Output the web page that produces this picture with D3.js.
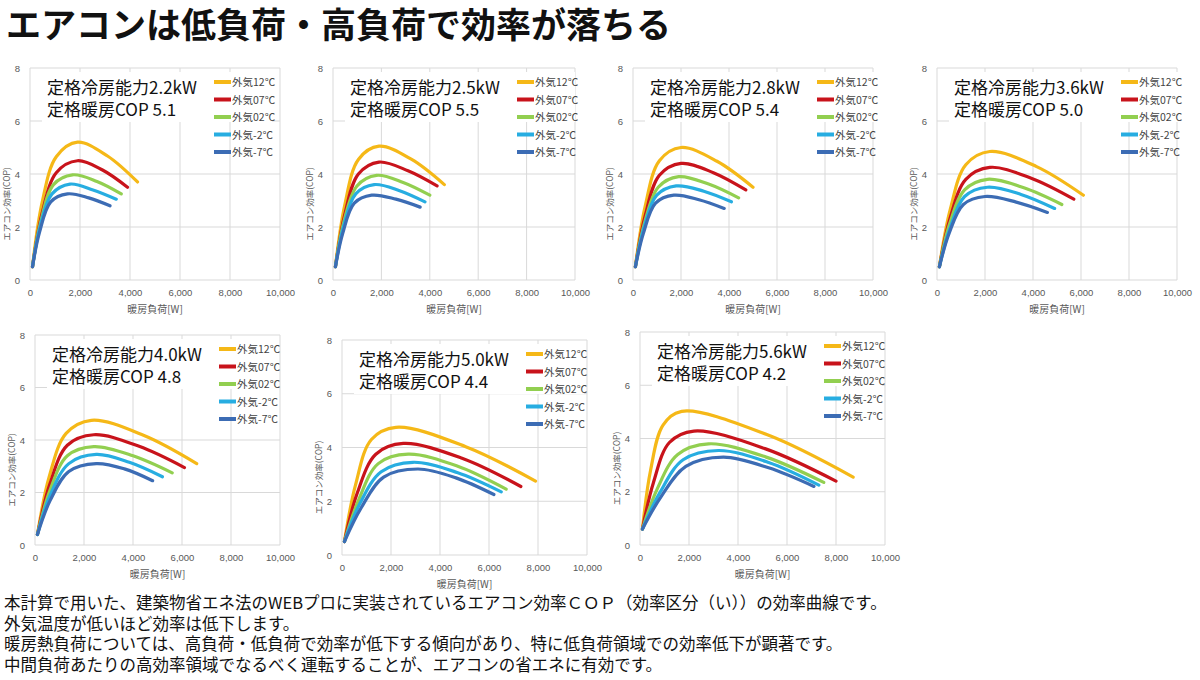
<!DOCTYPE html>
<html><head><meta charset="utf-8">
<script src="https://cdn.jsdelivr.net/npm/d3@7"></script>
<style>
body{margin:0;background:#fff;font-family:"Noto Sans CJK JP","Noto Sans",sans-serif;}
</style></head>
<body><svg id="chart" width="1200" height="680"></svg>
<script>
const seriesNames = ["外気12℃", "外気07℃", "外気02℃", "外気-2℃", "外気-7℃"];
const seriesColors = ["#f5b817", "#c8131b", "#92cf50", "#27ade1", "#3c6cb4"];
const xTicks = [0, 2000, 4000, 6000, 8000, 10000];
const yTicks = [0, 2, 4, 6, 8];
const capacities = ["2.2kW", "2.5kW", "2.8kW", "3.6kW", "4.0kW", "5.0kW", "5.6kW"];
const ratedCop = ["5.1", "5.5", "5.4", "5.0", "4.8", "4.4", "4.2"];

// [load W, COP] per panel, per series (12, 07, 02, -2, -7)
const curves = [
  [[[100,0.5],[480,2.9],[1050,4.65],[1900,5.2],[3100,4.68],[4300,3.7]],
   [[100,0.5],[480,2.5],[1050,4.05],[1900,4.5],[2900,4.15],[3900,3.5]],
   [[100,0.5],[430,2.2],[940,3.6],[1700,3.97],[2680,3.72],[3650,3.25]],
   [[100,0.5],[400,2.0],[880,3.25],[1600,3.62],[2520,3.4],[3450,3.05]],
   [[100,0.5],[380,1.8],[830,2.95],[1500,3.25],[2350,3.1],[3200,2.8]]],
  [[[100,0.5],[480,2.8],[1050,4.55],[1900,5.05],[3250,4.55],[4600,3.6]],
   [[100,0.5],[480,2.45],[1050,4.0],[1900,4.45],[3100,4.12],[4300,3.55]],
   [[100,0.5],[450,2.2],[990,3.55],[1800,3.95],[2900,3.68],[4000,3.2]],
   [[100,0.5],[430,2.0],[940,3.25],[1700,3.6],[2750,3.37],[3800,2.95]],
   [[100,0.5],[400,1.75],[880,2.9],[1600,3.2],[2600,3.05],[3600,2.75]]],
  [[[100,0.5],[500,2.75],[1100,4.5],[2000,5.0],[3500,4.48],[5000,3.5]],
   [[100,0.5],[500,2.4],[1100,3.95],[2000,4.4],[3350,4.05],[4700,3.4]],
   [[100,0.5],[480,2.15],[1050,3.5],[1900,3.9],[3150,3.62],[4400,3.1]],
   [[100,0.5],[450,1.95],[990,3.2],[1800,3.55],[2950,3.35],[4100,2.95]],
   [[100,0.5],[430,1.75],[940,2.9],[1700,3.2],[2750,3.03],[3800,2.7]]],
  [[[100,0.5],[550,2.65],[1200,4.35],[2200,4.85],[4150,4.28],[6100,3.2]],
   [[100,0.5],[550,2.35],[1200,3.8],[2200,4.25],[3950,3.83],[5700,3.05]],
   [[100,0.5],[520,2.1],[1150,3.4],[2100,3.8],[3650,3.47],[5200,2.85]],
   [[100,0.5],[520,1.9],[1150,3.15],[2100,3.5],[3500,3.23],[4900,2.7]],
   [[100,0.5],[500,1.75],[1100,2.85],[2000,3.15],[3300,2.94],[4600,2.55]]],
  [[[100,0.4],[580,2.6],[1270,4.25],[2300,4.75],[4450,4.17],[6600,3.1]],
   [[100,0.4],[600,2.3],[1320,3.8],[2400,4.2],[4250,3.76],[6100,2.95]],
   [[100,0.4],[600,2.05],[1320,3.4],[2400,3.75],[4000,3.4],[5600,2.75]],
   [[100,0.4],[620,1.9],[1380,3.1],[2500,3.45],[3850,3.15],[5200,2.6]],
   [[100,0.4],[620,1.7],[1380,2.8],[2500,3.1],[3650,2.9],[4800,2.45]]],
  [[[100,0.5],[550,2.6],[1200,4.3],[2200,4.75],[5050,4.03],[7900,2.75]],
   [[100,0.5],[620,2.3],[1380,3.75],[2500,4.15],[4900,3.6],[7300,2.55]],
   [[100,0.5],[680,2.05],[1480,3.4],[2700,3.75],[4700,3.31],[6700,2.45]],
   [[100,0.5],[720,1.9],[1600,3.1],[2900,3.45],[4700,3.07],[6500,2.35]],
   [[100,0.5],[780,1.75],[1700,2.9],[3100,3.2],[4650,2.87],[6200,2.25]]],
  [[[100,0.6],[430,2.8],[940,4.5],[1700,5.02],[5200,4.14],[8700,2.55]],
   [[100,0.6],[550,2.35],[1200,3.85],[2200,4.28],[5100,3.62],[8000,2.4]],
   [[100,0.6],[700,2.1],[1540,3.4],[2800,3.8],[5150,3.3],[7500,2.35]],
   [[100,0.6],[800,1.95],[1760,3.2],[3200,3.55],[5250,3.1],[7300,2.25]],
   [[100,0.6],[850,1.8],[1870,2.95],[3400,3.3],[5250,2.9],[7100,2.2]]]
];

const notes = [
  "本計算で用いた、建築物省エネ法のWEBプロに実装されているエアコン効率ＣＯＰ（効率区分（い））の効率曲線です。",
  "外気温度が低いほど効率は低下します。",
  "暖房熱負荷については、高負荷・低負荷で効率が低下する傾向があり、特に低負荷領域での効率低下が顕著です。",
  "中間負荷あたりの高効率領域でなるべく運転することが、エアコンの省エネに有効です。"
];

// plot frames: x of 0 W, x of 10000 W, y of COP 8, y of COP 0
const frames = [
  [30, 280, 68, 280], [333, 575, 68, 280], [633, 873, 68, 280], [937, 1177, 68, 280],
  [35, 280, 335, 545], [342, 587, 340, 555], [640, 885, 332, 545]
];

const svg = d3.select("#chart");

svg.append("text").attr("x", 6).attr("y", 38)
  .style("font-size", "35px").style("font-weight", "bold").attr("fill", "#111")
  .text("エアコンは低負荷・高負荷で効率が落ちる");

frames.forEach((f, i) => {
  const x = d3.scaleLinear().domain([0, 10000]).range([f[0], f[1]]);
  const y = d3.scaleLinear().domain([0, 8]).range([f[3], f[2]]);
  const g = svg.append("g");

  g.append("g").selectAll("line").data(xTicks).join("line")
    .attr("x1", d => x(d)).attr("x2", d => x(d)).attr("y1", f[2]).attr("y2", f[3])
    .attr("stroke", "#d9d9d9");
  g.append("g").selectAll("line").data(yTicks).join("line")
    .attr("x1", f[0]).attr("x2", f[1]).attr("y1", d => y(d)).attr("y2", d => y(d))
    .attr("stroke", "#d9d9d9");

  const xa = g.append("g").attr("transform", `translate(0,${f[3]})`)
    .call(d3.axisBottom(x).tickValues(xTicks).tickFormat(d3.format(",")).tickSize(0).tickPadding(9));
  const ya = g.append("g").attr("transform", `translate(${f[0]},0)`)
    .call(d3.axisLeft(y).tickValues(yTicks).tickSize(0).tickPadding(10));
  [xa, ya].forEach(a => {
    a.select(".domain").remove();
    a.selectAll("text").attr("fill", "#595959").style("font-size", "9.5px")
      .style("font-family", "Liberation Sans, sans-serif");
  });

  g.append("text").attr("x", (f[0] + f[1]) / 2).attr("y", f[3] + 33)
    .attr("text-anchor", "middle").attr("fill", "#595959").style("font-size", "10px")
    .text("暖房負荷[W]");
  g.append("text").attr("transform", `translate(${f[0] - 20},${(f[2] + f[3]) / 2 + 30}) rotate(-90)`)
    .attr("text-anchor", "middle").attr("fill", "#595959").style("font-size", "8.5px")
    .text("エアコン効率(COP)");

  // title box
  g.append("rect").attr("x", f[0] + 12).attr("y", f[2] + 4).attr("width", 230).attr("height", 50).attr("fill", "#fff");
  g.append("text").attr("x", f[0] + 17).attr("y", f[2] + 26).style("font-size", "17px").attr("fill", "#111")
    .text("定格冷房能力" + capacities[i]);
  g.append("text").attr("x", f[0] + 17).attr("y", f[2] + 48).style("font-size", "17px").attr("fill", "#111")
    .text("定格暖房COP " + ratedCop[i]);

  const line = d3.line().x(d => x(d[0])).y(d => y(d[1])).curve(d3.curveCatmullRom.alpha(0.5));
  curves[i].forEach((c, k) => {
    g.append("path").attr("d", line(c)).attr("fill", "none")
      .attr("stroke", seriesColors[k]).attr("stroke-width", 3.2).attr("stroke-linecap", "round");
  });

  const leg = g.append("g").attr("transform", `translate(${f[0] + 184},${f[2] + 14})`);
  seriesNames.forEach((n, k) => {
    leg.append("line").attr("x1", 0).attr("x2", 17).attr("y1", k * 17.5).attr("y2", k * 17.5)
      .attr("stroke", seriesColors[k]).attr("stroke-width", 4);
    leg.append("text").attr("x", 18).attr("y", k * 17.5 + 4).style("font-size", "10.5px").attr("fill", "#444")
      .text(n);
  });
});

svg.append("g").selectAll("text").data(notes).join("text")
  .attr("x", 4).attr("y", (d, i) => 609 + i * 20.5)
  .style("font-size", "16.5px").attr("fill", "#111").text(d => d);
</script></body></html>
